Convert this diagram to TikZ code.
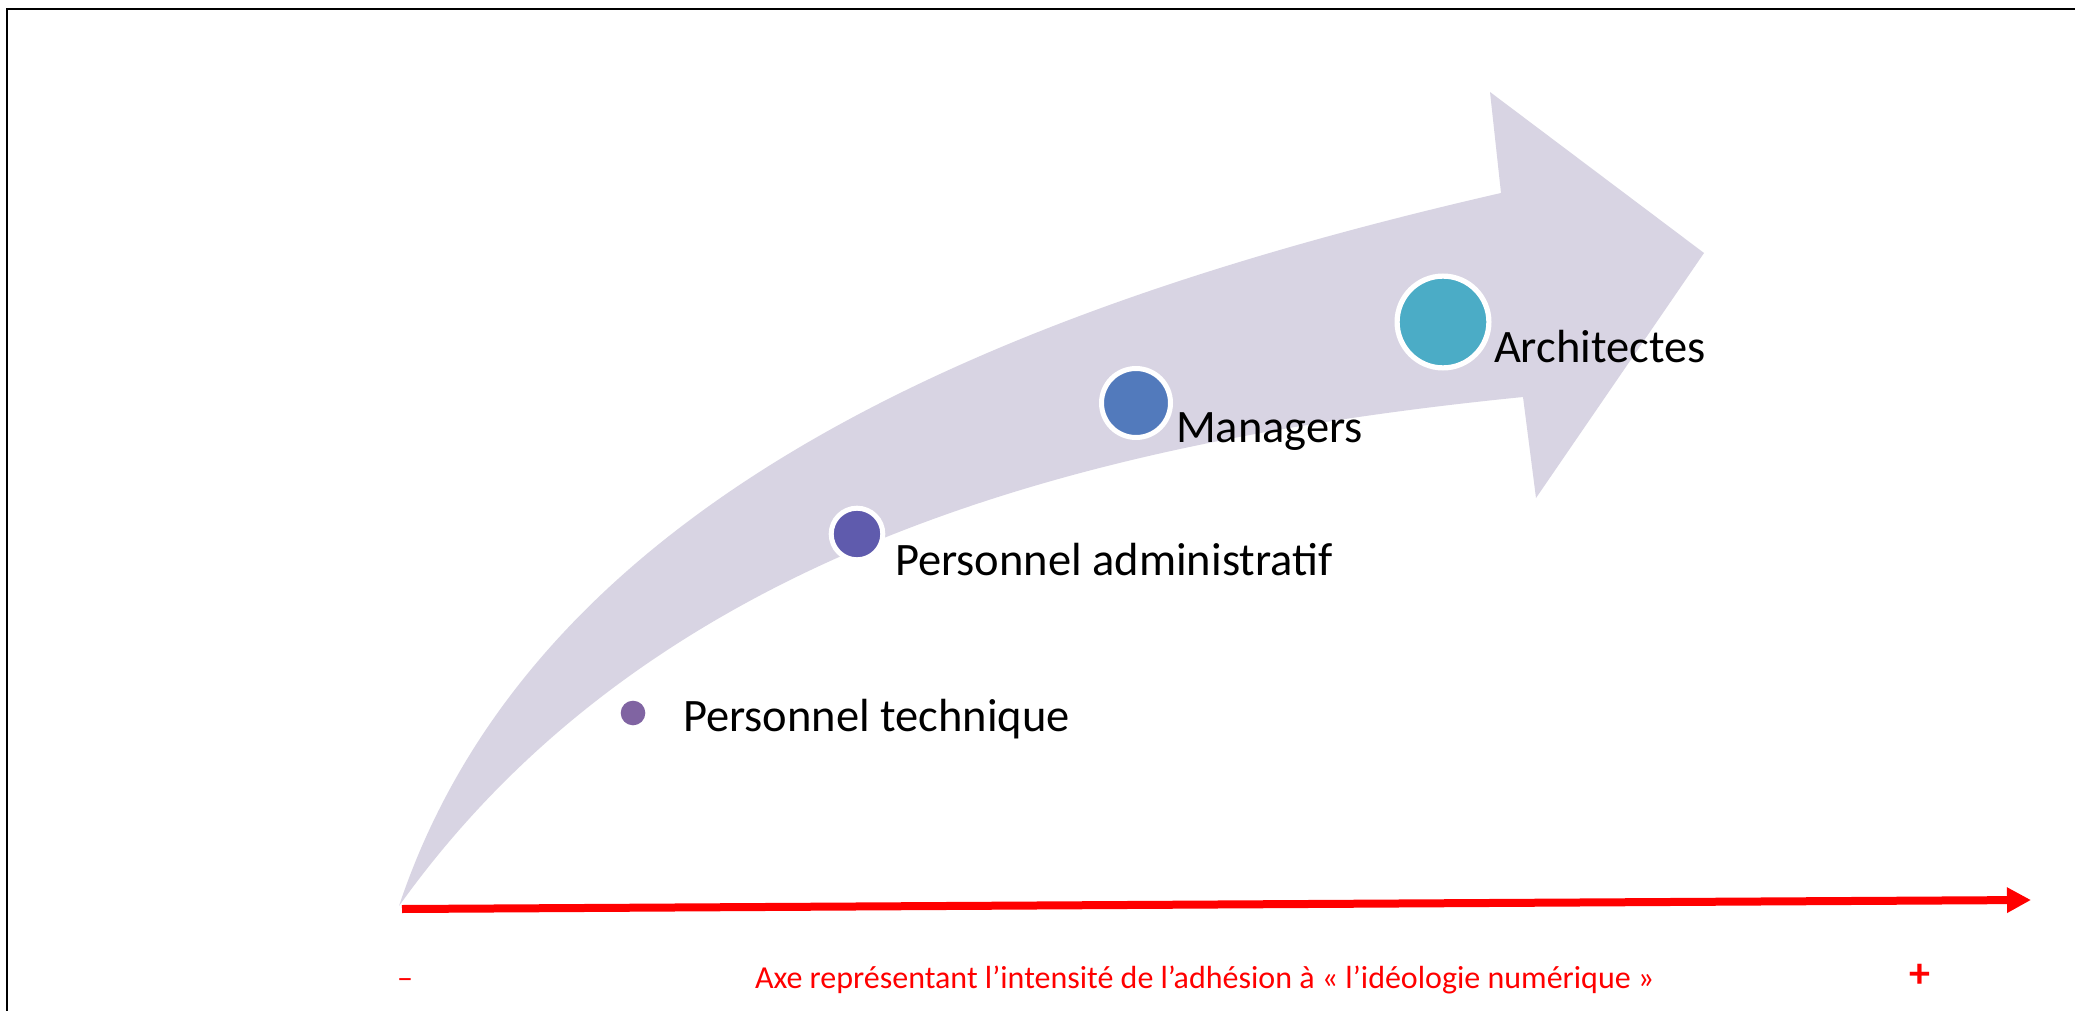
\documentclass[tikz,border=0pt]{standalone}
\usepackage{fontspec}
\setmainfont{Carlito}
\usetikzlibrary{arrows.meta}
\definecolor{arrowfill}{HTML}{D8D4E3}
\definecolor{ctech}{HTML}{8064A2}
\definecolor{cadmin}{HTML}{5F5BAD}
\definecolor{cmanag}{HTML}{527ABC}
\definecolor{carchi}{HTML}{4BACC6}
\definecolor{axisred}{HTML}{FF0000}
\begin{document}
\begin{tikzpicture}[x=1pt,y=-1pt,
  lbl/.style={anchor=base west, inner sep=0pt, outer sep=0pt, font=\fontsize{46.5}{56}\selectfont, text=black},
  redlbl/.style={inner sep=0pt, outer sep=0pt, font=\fontsize{32}{38}\selectfont, text=axisred},
  dotnode/.style={circle, inner sep=0pt, outer sep=0pt, draw=white}]
\useasboundingbox (0,0) rectangle (2075,1011);
\fill[white] (0,0) rectangle (2075,1011);
\draw[line width=1.5pt] (7,1020) -- (7,9) -- (2085,9);
% curved arrow
\fill[arrowfill] (399,906) .. controls (534,501) and (991,310) .. (1501,193)
  -- (1490,92) -- (1704,253) -- (1536,498) -- (1523,397)
  .. controls (1073,442) and (649,556) .. (399,906) -- cycle;
% dots
\node[circle, fill=ctech, inner sep=0pt, minimum size=24.6pt] (tech) at (633,713) {};
\node[dotnode, fill=cadmin, minimum size=51.6pt, line width=5pt] (admin) at (857,534) {};
\node[dotnode, fill=cmanag, minimum size=69pt, line width=5pt] (manag) at (1136,403) {};
\node[dotnode, fill=carchi, minimum size=91.8pt, line width=5.2pt] (archi) at (1443,322) {};
% labels
\node[lbl] (ltech) at (683,731) {Personnel technique};
\node[lbl] (ladmin) at (895,575) {Personnel administratif};
\node[lbl] (lmanag) at (1176,442) {Managers};
\node[lbl] (larchi) at (1494,362) {Architectes};
% axis
\coordinate (axL) at (402,909);
\coordinate (axT) at (2031,900);
\draw[axisred, line width=8pt, -{Triangle[length=24pt,width=24pt]}] (axL) -- (axT);
\node[redlbl, anchor=base west] (minus) at (397,988) {–};
\node[redlbl, anchor=base west] (axe) at (755,988) {Axe représentant l’intensité de l’adhésion à «~l’idéologie numérique~»};
\node[redlbl, font=\fontsize{42}{50}\selectfont\bfseries] (plus) at (1920,976) {+};
\end{tikzpicture}
\end{document}
